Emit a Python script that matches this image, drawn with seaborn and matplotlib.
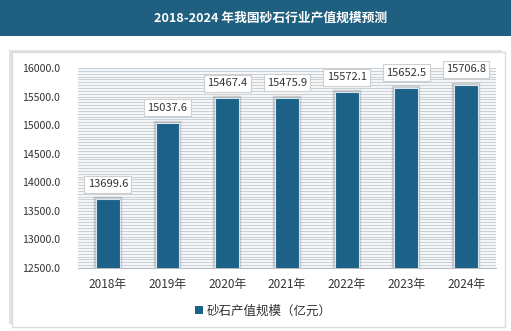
import matplotlib
matplotlib.use("Agg")
import matplotlib.pyplot as plt
import matplotlib.patheffects as pe
from matplotlib.patches import Rectangle, Patch
from matplotlib.ticker import MultipleLocator, FormatStrFormatter
import seaborn as sns
import pandas as pd

years = ["2018年", "2019年", "2020年", "2021年", "2022年", "2023年", "2024年"]
values = [13699.6, 15037.6, 15467.4, 15475.9, 15572.1, 15652.5, 15706.8]
series_name = "砂石产值规模（亿元）"
title = "2018-2024 年我国砂石行业产值规模预测"

sns.set_theme(style="white")
plt.rcParams["font.family"] = ["Noto Sans CJK SC", "DejaVu Sans"]

BAR = "#1b6188"
BANNER = "#1f5f80"

df = pd.DataFrame({"year": years, "value": values})

fig = plt.figure(figsize=(5.11, 3.31), dpi=100)
fig.patch.set_facecolor("white")

# title banner
fig.patches.append(Rectangle((0, 0.891), 1, 0.109, transform=fig.transFigure,
                             facecolor=BANNER, edgecolor="none", zorder=-2))
fig.text(0.530, 0.944, title, color="white", fontsize=9.2, fontweight="bold",
         ha="center", va="center")

# framed panel with soft shadow along its top and left edges
panel = Rectangle((0.0235, 0.012), 0.965, 0.83, transform=fig.transFigure,
                  facecolor="white", edgecolor="#dcdcdc", linewidth=1.0, zorder=-2)
panel.set_path_effects([pe.SimplePatchShadow(offset=(-2, 2), shadow_rgbFace="#cfcfcf", alpha=0.6),
                        pe.Normal()])
fig.patches.append(panel)

ax = fig.add_axes([0.1526, 0.1903, 0.8180, 0.6042])
ax.set_zorder(2)
ax.set_facecolor("#f4f6f8")

sns.barplot(data=df, x="year", y="value", color=BAR, width=0.4,
            saturation=1, ax=ax, zorder=3)

# light outline plus a grey halo around each bar
for bar in ax.patches:
    bar.set_edgecolor("#d5e6f0")
    bar.set_linewidth(0.8)
    bar.set_path_effects([pe.Stroke(linewidth=3.2, foreground="#8c8c8c", alpha=0.38),
                          pe.Normal()])

ax.set_ylim(12500, 16000)
ax.set_xlim(-0.5, len(years) - 0.5)
ax.yaxis.set_major_locator(MultipleLocator(500))
ax.yaxis.set_minor_locator(MultipleLocator(50))
ax.yaxis.set_major_formatter(FormatStrFormatter("%.1f"))
ax.grid(which="both", axis="y", color="#c9d0d6", linewidth=0.7, zorder=0)
ax.set_axisbelow(True)

for s in ["top", "right", "left"]:
    ax.spines[s].set_visible(False)
ax.spines["bottom"].set_color("#b8c0c6")
ax.spines["bottom"].set_linewidth(0.8)

ax.tick_params(axis="y", which="both", length=0, labelsize=7.6, colors="#333333", pad=13)
ax.tick_params(axis="x", length=0, labelsize=8.5, colors="#333333", pad=7)
ax.set_xlabel("")
ax.set_ylabel("")

for i, v in enumerate(values):
    ax.annotate(f"{v:.1f}", xy=(i, v), xytext=(0, 11), textcoords="offset points",
                ha="center", va="center", fontsize=8, color="#333333", zorder=5,
                bbox=dict(boxstyle="square,pad=0.3", facecolor="white",
                          edgecolor="#cfcfcf", linewidth=0.8))

fig.legend(handles=[Patch(facecolor=BAR, edgecolor="none", label=series_name)],
           loc="center", bbox_to_anchor=(0.515, 0.060), frameon=False,
           fontsize=9, handlelength=0.6, handleheight=0.6, handletextpad=0.3,
           labelcolor="#333333")

fig.savefig("out.png", dpi=100)
